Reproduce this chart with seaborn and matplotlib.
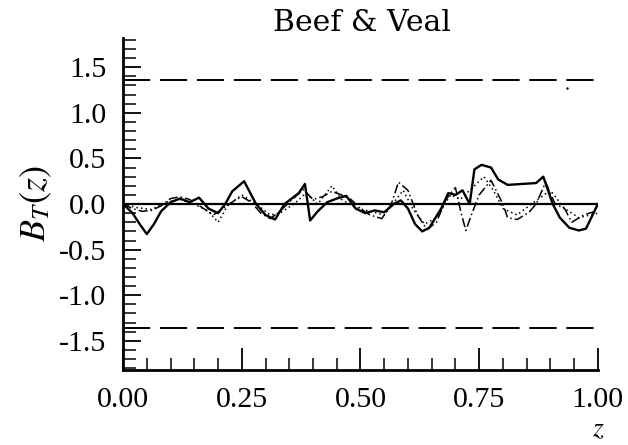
import numpy as np
import pandas as pd
import matplotlib
matplotlib.use("Agg")
import matplotlib.pyplot as plt
from matplotlib.ticker import MultipleLocator
import seaborn as sns

# ---- data ----
z_solid = [0.00, 0.02, 0.035, 0.05, 0.065, 0.08, 0.10, 0.12, 0.14, 0.16, 0.18, 0.20, 0.215,
           0.23, 0.255, 0.28, 0.30, 0.32, 0.34, 0.36, 0.37, 0.383, 0.394, 0.41, 0.43, 0.45,
           0.47, 0.49, 0.51, 0.53, 0.55, 0.57, 0.585, 0.60, 0.615, 0.63, 0.645, 0.67, 0.685,
           0.70, 0.715, 0.73, 0.74, 0.755, 0.775, 0.79, 0.81, 0.84, 0.87, 0.885, 0.905, 0.92,
           0.94, 0.96, 0.975, 1.00]
b_solid = [0.00, -0.10, -0.22, -0.33, -0.22, -0.08, 0.02, 0.06, 0.02, 0.07, -0.05, -0.10, 0.00,
           0.14, 0.25, 0.00, -0.12, -0.17, 0.00, 0.08, 0.12, 0.22, -0.18, -0.08, 0.02, 0.06,
           0.09, -0.05, -0.10, -0.07, -0.09, 0.00, 0.04, -0.05, -0.22, -0.30, -0.26, -0.05, 0.12,
           0.10, 0.15, 0.00, 0.38, 0.43, 0.40, 0.27, 0.21, 0.22, 0.23, 0.30, 0.00, -0.15,
           -0.26, -0.29, -0.27, 0.00]

z_dashdot = [0.00, 0.02, 0.04, 0.06, 0.08, 0.10, 0.12, 0.14, 0.17, 0.19, 0.21, 0.235, 0.25,
             0.27, 0.29, 0.31, 0.33, 0.35, 0.38, 0.40, 0.42, 0.44, 0.46, 0.48, 0.50, 0.52,
             0.545, 0.565, 0.58, 0.60, 0.62, 0.64, 0.66, 0.68, 0.70, 0.712, 0.722, 0.735,
             0.75, 0.775, 0.80, 0.81, 0.83, 0.855, 0.87, 0.89, 0.91, 0.93, 0.945, 0.97, 1.00]
b_dashdot = [0.00, -0.05, -0.08, -0.07, -0.02, 0.06, 0.08, 0.05, -0.05, -0.12, -0.05, 0.04, 0.08,
             0.02, -0.10, -0.16, -0.08, 0.02, 0.16, 0.05, 0.08, 0.14, 0.10, 0.05, -0.05, -0.12,
             -0.16, 0.00, 0.24, 0.15, -0.12, -0.28, -0.20, 0.05, 0.18, -0.10, -0.29, -0.10,
             0.10, 0.26, 0.00, -0.15, -0.17, -0.09, 0.00, 0.24, 0.00, -0.05, -0.20, -0.12, -0.07]

z_dotted = [0.00, 0.03, 0.06, 0.09, 0.12, 0.15, 0.18, 0.20, 0.22, 0.25, 0.28, 0.31, 0.33, 0.36,
            0.385, 0.41, 0.425, 0.44, 0.46, 0.49, 0.52, 0.55, 0.575, 0.59, 0.61, 0.635, 0.66,
            0.69, 0.71, 0.73, 0.76, 0.78, 0.80, 0.83, 0.86, 0.90, 0.93, 0.96, 1.00]
b_dotted = [0.00, -0.04, -0.06, 0.02, 0.05, 0.00, -0.08, -0.20, -0.02, 0.10, 0.00, -0.12, -0.10,
            0.00, 0.12, 0.00, 0.10, 0.20, 0.05, -0.04, -0.08, -0.12, 0.05, 0.15, -0.05, -0.22,
            -0.15, 0.10, 0.05, 0.15, 0.30, 0.15, -0.05, -0.12, 0.00, 0.15, -0.05, -0.15, -0.10]

stray_z = [0.935]
stray_b = [1.27]

crit_value = 1.36
x_ticks = [0.00, 0.25, 0.50, 0.75, 1.00]
x_tick_labels = ["0.00", "0.25", "0.50", "0.75", "1.00"]
y_ticks = [-1.5, -1.0, -0.5, 0.0, 0.5, 1.0, 1.5]
y_tick_labels = ["-1.5", "-1.0", "-0.5", "0.0", "0.5", "1.0", "1.5"]
title = "Beef & Veal"

# ---- styling ----
sns.set_style("ticks")
plt.rcParams["font.family"] = ["Liberation Serif", "DejaVu Serif"]
plt.rcParams["mathtext.fontset"] = "stix"
for key in ["text.color", "axes.labelcolor", "xtick.color", "ytick.color", "axes.edgecolor"]:
    plt.rcParams[key] = "black"

fig = plt.figure(figsize=(6.28, 4.45), dpi=100)
ax = fig.add_axes([0.196, 0.1685, 0.756, 0.746])

df_s = pd.DataFrame({"z": z_solid, "B": b_solid})
df_d = pd.DataFrame({"z": z_dashdot, "B": b_dashdot})
df_o = pd.DataFrame({"z": z_dotted, "B": b_dotted})

sns.lineplot(data=df_o, x="z", y="B", ax=ax, color="black", lw=1.1,
             linestyle=(0, (1, 2)), sort=False)
sns.lineplot(data=df_d, x="z", y="B", ax=ax, color="black", lw=1.1,
             linestyle=(0, (6, 2, 1, 2)), sort=False)
sns.lineplot(data=df_s, x="z", y="B", ax=ax, color="black", lw=1.7, sort=False)
sns.scatterplot(x=stray_z, y=stray_b, ax=ax, color="black", s=3, linewidth=0)

ax.axhline(0.0, color="black", lw=1.6)
ax.axhline(crit_value, color="black", lw=1.4, linestyle=(0, (14, 5)))
ax.axhline(-crit_value, color="black", lw=1.4, linestyle=(0, (14, 5)))

ax.set_xlim(0.0, 1.0)
ax.set_ylim(-1.82, 1.82)
ax.set_xticks(x_ticks)
ax.set_xticklabels(x_tick_labels)
ax.set_yticks(y_ticks)
ax.set_yticklabels(y_tick_labels)
ax.xaxis.set_minor_locator(MultipleLocator(0.05))
ax.yaxis.set_minor_locator(MultipleLocator(0.1))

ax.tick_params(axis="both", which="major", direction="in", length=16, width=1.3,
               labelsize=21.5, pad=12, colors="black")
ax.tick_params(axis="y", which="major", length=13, pad=12)
ax.tick_params(axis="both", which="minor", direction="in", length=9, width=1.1)

sns.despine(ax=ax)
for sp in ["left", "bottom"]:
    ax.spines[sp].set_linewidth(2.0)
    ax.spines[sp].set_color("black")

ax.set_xlabel("")
ax.set_ylabel(r"$B_T(z)$", fontsize=26, labelpad=4)
fig.text(0.952, 0.006, r"$z$", fontsize=20, ha="center", va="bottom")
fig.text(0.577, 0.948, title, fontsize=21.5, ha="center", va="center",
         family=["DejaVu Serif"])

fig.savefig("out.png", dpi=100)
